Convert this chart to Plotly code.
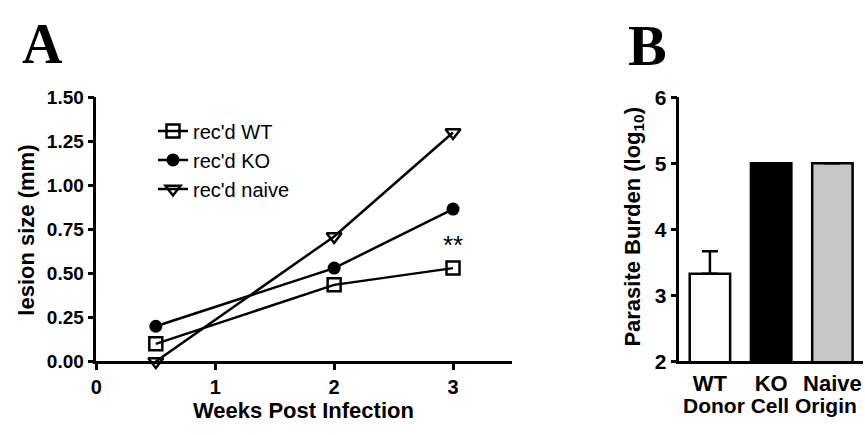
import plotly.graph_objects as go

W, H = 865, 435

# ---- data ----
weeks = [0.5, 2, 3]
wt_vals = [0.10, 0.435, 0.53]
ko_vals = [0.20, 0.53, 0.865]
naive_vals = [0.00, 0.71, 1.30]
series_names = ["rec'd WT", "rec'd KO", "rec'd naive"]

bar_cats = ["WT", "KO", "Naive"]
bar_vals = [3.33, 5.0, 5.0]
bar_err = [0.34, 0, 0]

a_yticks = [0, 0.25, 0.5, 0.75, 1.0, 1.25, 1.5]
a_xticks = [0, 1, 2, 3]
b_yticks = [2, 3, 4, 5, 6]

FONT = "Liberation Sans, Arial, sans-serif"

def px(x):
    return x / W

def py(y):
    return 1 - y / H

fig = go.Figure()

markers = [
    dict(symbol="square-open", size=13, color="black", line=dict(width=2.5, color="black")),
    dict(symbol="circle", size=13, color="black", line=dict(width=0)),
    dict(symbol="triangle-down-open", size=13, color="black", line=dict(width=2.5, color="black")),
]
for name, vals, mk in zip(series_names, [wt_vals, ko_vals, naive_vals], markers):
    fig.add_trace(go.Scatter(
        x=weeks, y=vals, name=name, mode="lines+markers",
        line=dict(color="black", width=2.5), marker=mk, cliponaxis=False,
        xaxis="x", yaxis="y",
    ))

fig.add_trace(go.Bar(
    x=list(range(len(bar_cats))), y=bar_vals, width=0.66,
    marker=dict(color=["white", "black", "#c6c6c6"], line=dict(color="black", width=2.5)),
    error_y=dict(type="data", symmetric=False, array=bar_err, arrayminus=[0, 0, 0],
                 color="black", thickness=2.5, width=8),
    showlegend=False, xaxis="x2", yaxis="y2",
))

def axis_style(size=19, ticks="outside"):
    return dict(showgrid=False, zeroline=False, showline=True, linecolor="black",
                linewidth=2.5, ticks=ticks, ticklen=6, tickwidth=2.5, tickcolor="black",
                tickfont=dict(family=FONT, size=size, color="black", weight="bold"))

ydom = [py(369), py(90)]
fig.update_layout(
    width=W, height=H, margin=dict(l=0, r=0, t=0, b=0),
    paper_bgcolor="white", plot_bgcolor="white",
    xaxis=dict(domain=[px(91), px(510)], range=[0, 3.5], tickvals=a_xticks, anchor="y", **axis_style(20)),
    yaxis=dict(domain=ydom, range=[0, 1.5], tickvals=a_yticks, tickformat=".2f", anchor="x", **axis_style(19)),
    xaxis2=dict(domain=[px(678), px(863)], range=[-0.5, 2.5], tickvals=[0, 1, 2], ticktext=bar_cats,
                anchor="y2", **axis_style(22, "")),
    yaxis2=dict(domain=ydom, range=[2, 6], tickvals=b_yticks, anchor="x2", **axis_style(21)),
    legend=dict(x=px(148), y=py(105), xanchor="left", yanchor="top", bgcolor="rgba(0,0,0,0)",
                font=dict(family=FONT, size=20, color="black"), tracegroupgap=0),
    showlegend=True,
)

ann = [
    dict(text="A", x=px(37), y=py(34), font=dict(family="Liberation Serif, Times New Roman, serif", size=56, color="black", weight="bold")),
    dict(text="B", x=px(646), y=py(35), font=dict(family="Liberation Serif, Times New Roman, serif", size=58, color="black", weight="bold")),
    dict(text="Weeks Post Infection", x=px(300), y=py(421), font=dict(family=FONT, size=22, color="black", weight="bold")),
    dict(text="lesion size (mm)", x=px(21), y=py(230), textangle=-90, font=dict(family=FONT, size=22, color="black", weight="bold")),
    dict(text="Donor Cell Origin", x=px(769), y=py(415), font=dict(family=FONT, size=21, color="black", weight="bold")),
    dict(text="Parasite Burden (log<sub>10</sub>)", x=px(632), y=py(227), textangle=-90, font=dict(family=FONT, size=22, color="black", weight="bold")),
]
for a in ann:
    fig.add_annotation(xref="paper", yref="paper", showarrow=False, xanchor="center", yanchor="middle", **a)

fig.add_annotation(xref="x", yref="y", x=3, y=0.66, text="**", showarrow=False,
                   font=dict(family=FONT, size=26, color="black"))

fig.write_html("out.html")
